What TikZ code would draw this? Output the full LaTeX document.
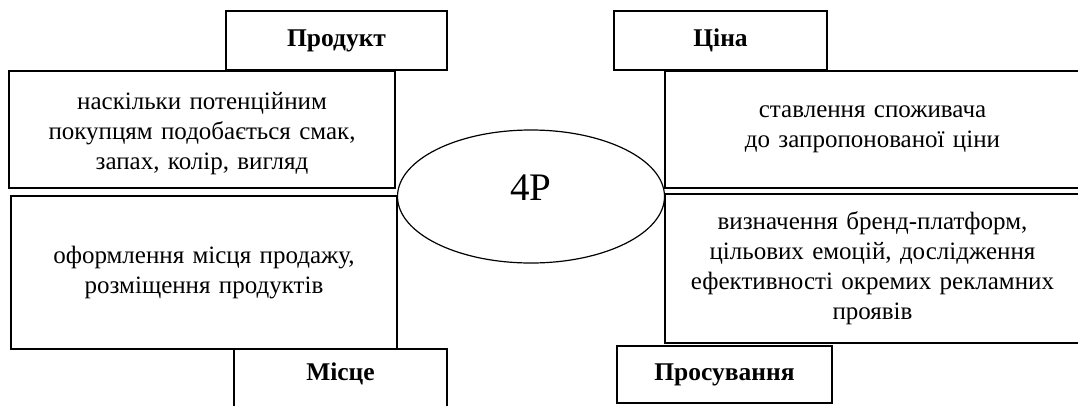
\documentclass[tikz,border=0pt]{standalone}
\usepackage{fontspec}
\setmainfont{Liberation Serif}
\usetikzlibrary{shapes.geometric}
\begin{document}
\begin{tikzpicture}[x=1pt,y=-1pt,
  box/.style={draw, line width=1.2pt, fill=white, rectangle, inner sep=2pt, align=center,
    font=\fontsize{25}{30}\selectfont},
  head/.style={box, font=\fontsize{25.5}{30}\selectfont\bfseries},
  oval/.style={draw, line width=1.2pt, fill=white, ellipse, inner sep=0pt}]
\useasboundingbox (0,0) rectangle (1078,405);
\node[oval, minimum width=267pt, minimum height=133pt] (c) at (531,196.5) {};
\node[font=\fontsize{39}{44}\selectfont, inner sep=0pt] (t4p) at (531,188) {4P};
% left side
\node[box, minimum width=386pt, minimum height=117pt, text width=370pt] (tl) at (202,129.5)
  {\rule{0pt}{26pt}наскільки потенційним\\покупцям подобається смак,\\запах, колір, вигляд};
\node[head, minimum width=221pt, minimum height=59pt] (prod) at (336.5,40.5) {Продукт};
\node[box, minimum width=386pt, minimum height=153pt, text width=370pt] (bl) at (204,272.5)
  {оформлення місця продажу,\\розміщення продуктів};
\node[head, minimum width=213pt, minimum height=58pt] (misce) at (340.5,378) {\rule[-12pt]{0pt}{12pt}Місце};
% right side
\node[box, minimum width=415pt, minimum height=117pt, text width=400pt] (tr) at (872.5,129.5)
  {ставлення споживача\\до запропонованої ціни\\[2pt]};
\node[head, minimum width=213pt, minimum height=59pt] (cina) at (720.5,40.5) {Ціна};
\node[box, minimum width=415pt, minimum height=149pt, text width=400pt] (br) at (872.5,268.5)
  {визначення бренд-платформ,\\цільових емоцій, дослідження\\ефективності окремих рекламних\\проявів};
\node[head, minimum width=215pt, minimum height=57pt] (pros) at (724.5,374.5) {Просування};
\end{tikzpicture}
\end{document}
